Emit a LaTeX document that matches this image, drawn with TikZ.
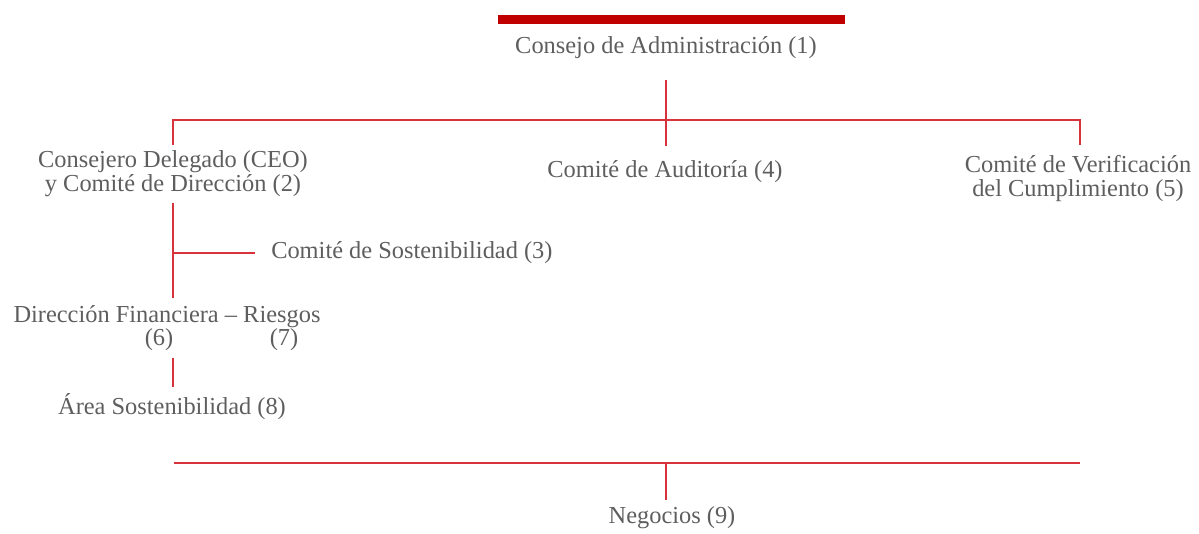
\documentclass[tikz,border=0pt]{standalone}
\usepackage{fontspec}
\setmainfont{Liberation Serif}
\definecolor{txtgray}{HTML}{5E5E5E}
\definecolor{linered}{HTML}{D8323C}
\definecolor{barred}{HTML}{C00000}
\begin{document}
\begin{tikzpicture}[x=0.75pt,y=-0.75pt,
  lbl/.style={text=txtgray, font=\fontsize{18.3}{18}\selectfont, inner sep=0pt, align=center, anchor=base},
  conn/.style={draw=linered, line width=1.1pt},
  topbar/.style={draw=barred, line width=6.75pt}]
\useasboundingbox (0,0) rectangle (1199,534);
% top bar
\coordinate (barL) at (498,20);
\coordinate (barR) at (845,20);
\draw[topbar] (barL) -- (barR);
% nodes
\node[lbl] (n1) at (666,54) {Consejo de Administración (1)};
\node[lbl] (n2) at (173,192) {Consejero Delegado (CEO)\\y Comité de Dirección (2)};
\node[lbl, anchor=base west] (n3) at (271,259) {Comité de Sostenibilidad (3)};
\node[lbl] (n4) at (665,178) {Comité de Auditoría (4)};
\node[lbl] (n5) at (1078,197) {Comité de Verificación\\del Cumplimiento (5)};
\node[lbl] (n6) at (167,323) {Dirección Financiera – Riesgos};
\node[lbl] (n6b) at (159,346) {(6)};
\node[lbl] (n7b) at (284,346) {(7)};
\node[lbl] (n8) at (172,414) {Área Sostenibilidad (8)};
\node[lbl] (n9) at (672,523) {Negocios (9)};
% coordinates
\coordinate (c1a) at (666,80);
\coordinate (c1b) at (666,146);
\coordinate (busL) at (173,120);
\coordinate (busR) at (1080,120);
\coordinate (d2) at (173,145);
\coordinate (d5) at (1080,145);
\coordinate (c2a) at (173,203);
\coordinate (c2b) at (173,298);
\coordinate (br) at (173,253);
\coordinate (br3) at (255,253);
\coordinate (c6a) at (173,358);
\coordinate (c6b) at (173,387);
\coordinate (botL) at (174,463);
\coordinate (botR) at (1080,463);
\coordinate (botM) at (666,463);
\coordinate (c9) at (666,500);
% connectors
\draw[conn] (c1a) -- (c1b);
\draw[conn] (d2) -- (busL) -- (busR) -- (d5);
\draw[conn] (c2a) -- (c2b);
\draw[conn] (br) -- (br3);
\draw[conn] (c6a) -- (c6b);
\draw[conn] (botL) -- (botR);
\draw[conn] (botM) -- (c9);
\end{tikzpicture}
\end{document}
